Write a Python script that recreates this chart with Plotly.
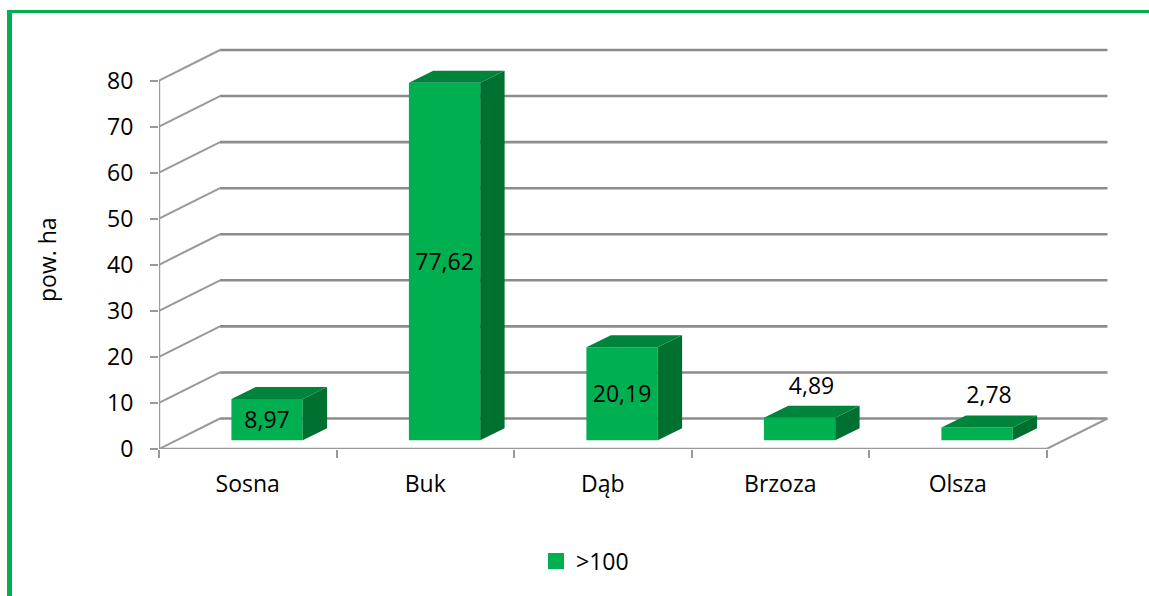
import plotly.graph_objects as go

categories = ["Sosna", "Buk", "Dąb", "Brzoza", "Olsza"]
values = [8.97, 77.62, 20.19, 4.89, 2.78]
series_name = ">100"
y_ticks = [0, 10, 20, 30, 40, 50, 60, 70, 80]

W, H = 1149, 596
L, R, T, B = 159, 1112, 40, 449
PX_X = 177.5            # px per category
PX_Y = (449 - 80.5) / 80  # px per value unit
FONT = "Open Sans"
FS = 23

WALL_DX = 61 / PX_X
WALL_DY = 30.5 / PX_Y
BAR_W = 71.3 / PX_X
BAR_OFF = 19.3 / PX_X
BAR_BASE = 8.7 / PX_Y
BAR_DX = 24.4 / PX_X
BAR_DY = 12 / PX_Y

FRONT, TOP_C, SIDE = "#00B050", "#00843C", "#007030"
GRID, DIAG = "#8C8C8C", "#999999"

xs = list(range(len(categories)))
x0, x1 = -0.5, len(categories) - 0.5


def px(x):
    return (x - L) / (R - L)


def py(y):
    return (B - y) / (B - T)


shapes = []
for v in y_ticks:
    shapes.append(dict(type="line", xref="x", yref="y", layer="below", x0=x0 + WALL_DX, x1=x1 + WALL_DX,
                       y0=v + WALL_DY, y1=v + WALL_DY, line=dict(color=GRID, width=2.6)))
    shapes.append(dict(type="line", xref="x", yref="y", layer="below", x0=x0, x1=x0 + WALL_DX,
                       y0=v, y1=v + WALL_DY, line=dict(color=DIAG, width=2)))
shapes.append(dict(type="line", xref="x", yref="y", layer="below", x0=x1, x1=x1 + WALL_DX,
                   y0=0, y1=WALL_DY, line=dict(color=DIAG, width=2)))
shapes.append(dict(type="line", xref="x", yref="y", layer="below", x0=x0, x1=x0, y0=0, y1=max(y_ticks),
                   line=dict(color=DIAG, width=2.4)))
shapes.append(dict(type="line", xref="x", yref="y", layer="below", x0=x0, x1=x1, y0=0, y1=0,
                   line=dict(color=DIAG, width=2.6)))
# outer green frame
shapes.append(dict(type="rect", xref="paper", yref="paper", x0=px(7), x1=px(W), y0=py(13), y1=py(10),
                   fillcolor=FRONT, line=dict(width=0), layer="above"))
shapes.append(dict(type="rect", xref="paper", yref="paper", x0=px(7), x1=px(12), y0=py(H), y1=py(10),
                   fillcolor=FRONT, line=dict(width=0), layer="above"))

fig = go.Figure()

bar_x = [i + BAR_OFF for i in xs]
fig.add_trace(go.Bar(x=bar_x, y=values, base=[BAR_BASE] * len(values), width=BAR_W,
                     marker=dict(color=FRONT, line=dict(width=0)), showlegend=False, name=series_name))

side_x, side_y, top_x, top_y = [], [], [], []
for cx, v in zip(bar_x, values):
    l, r = cx - BAR_W / 2, cx + BAR_W / 2
    t = BAR_BASE + v
    side_x += [r, r + BAR_DX, r + BAR_DX, r, r, None]
    side_y += [BAR_BASE, BAR_BASE + BAR_DY, t + BAR_DY, t, BAR_BASE, None]
    top_x += [l, r, r + BAR_DX, l + BAR_DX, l, None]
    top_y += [t, t, t + BAR_DY, t + BAR_DY, t, None]
for fx, fy, col in ((side_x, side_y, SIDE), (top_x, top_y, TOP_C)):
    fig.add_trace(go.Scatter(x=fx, y=fy, mode="lines", fill="toself", fillcolor=col,
                             line=dict(width=0, color=col), hoverinfo="skip", showlegend=False))

lab_x, lab_y = [], []
for cx, v in zip(bar_x, values):
    if v > 8:
        lab_x.append(cx)
        lab_y.append(BAR_BASE + v / 2 - 2.5 / PX_Y)
    else:
        lab_x.append(cx + 12 / PX_X)
        lab_y.append(BAR_BASE + v + BAR_DY + 18 / PX_Y)
fig.add_trace(go.Scatter(x=lab_x, y=lab_y, mode="text", text=[f"{v:.2f}".replace(".", ",") for v in values],
                         textposition="middle center", textfont=dict(family=FONT, size=FS, color="black"),
                         hoverinfo="skip", showlegend=False))

fig.add_trace(go.Scatter(x=[None], y=[None], mode="markers", name=series_name,
                         marker=dict(symbol="square", size=16, color=FRONT, line=dict(width=0))))

fig.update_layout(
    width=W, height=H, autosize=False,
    margin=dict(l=L, r=W - R, t=T, b=H - B, pad=0),
    paper_bgcolor="white", plot_bgcolor="white",
    font=dict(family=FONT, size=FS, color="black"),
    shapes=shapes,
    showlegend=True,
    legend=dict(x=px(542), y=py(561), xanchor="left", yanchor="middle", bgcolor="rgba(0,0,0,0)",
                itemsizing="trace", indentation=-6, font=dict(family=FONT, size=FS, color="black")),
    annotations=[dict(text="pow. ha", textangle=-90, xref="paper", yref="paper", x=px(47), y=py(260),
                      xanchor="center", yanchor="middle", showarrow=False,
                      font=dict(family=FONT, size=FS, color="black"))],
    xaxis=dict(range=[x0, x0 + (R - L) / PX_X], showgrid=False, zeroline=False, showline=False,
               tickmode="array", tickvals=xs, ticktext=categories, ticks="", ticklen=0,
               ticklabelstandoff=19,
               minor=dict(tickmode="array", tickvals=[i - 0.5 for i in range(len(categories) + 1)],
                          ticks="outside", ticklen=8, tickwidth=1.5, tickcolor=DIAG, showgrid=False)),
    yaxis=dict(range=[0, (B - T) / PX_Y], showgrid=False, zeroline=False, showline=False,
               tickmode="array", tickvals=y_ticks, ticks="outside", ticklen=8, tickwidth=1.5, tickcolor=DIAG,
               ticklabelstandoff=12),
)

fig.write_html("out.html", config={"displayModeBar": False},
               post_script="document.body.style.margin='0';document.body.style.overflow='hidden';")
